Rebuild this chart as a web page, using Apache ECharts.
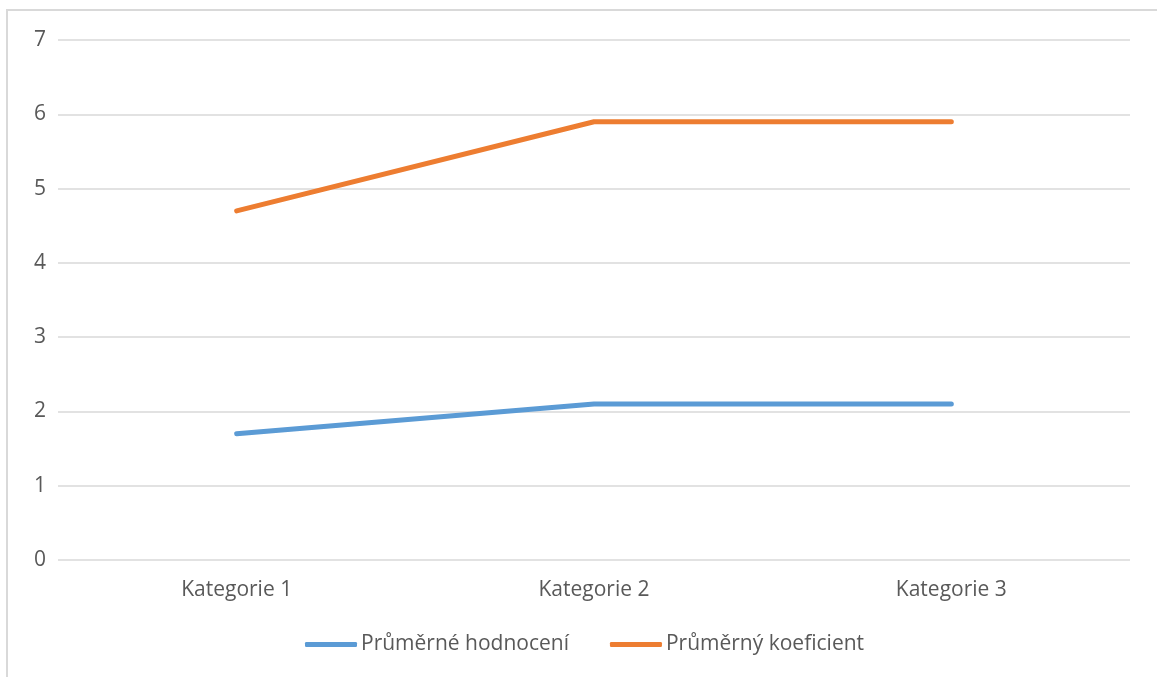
<!DOCTYPE html>
<html>
<head>
<meta charset="utf-8">
<script src="https://cdn.jsdelivr.net/npm/echarts@6/dist/echarts.min.js"></script>
<style>
  html, body { margin: 0; padding: 0; background: #fff; }
  #chart { width: 1157px; height: 677px; }
</style>
</head>
<body>
<div id="chart"></div>
<script>
// Categories and series values
const categories = ['Kategorie 1', 'Kategorie 2', 'Kategorie 3'];
const prumerneHodnoceni = [1.7, 2.1, 2.1];
const prumernyKoeficient = [4.7, 5.9, 5.9];
const seriesNames = ['Průměrné hodnocení', 'Průměrný koeficient'];

const textColor = '#595959';
const gridColor = '#d9d9d9';
const font = '"Open Sans", "Noto Sans", sans-serif';

const chart = echarts.init(document.getElementById('chart'));
chart.setOption({
  animation: false,
  backgroundColor: '#fff',
  textStyle: { fontFamily: font },
  graphic: [{
    type: 'rect',
    shape: { x: 7, y: 10, width: 1300, height: 900 },
    style: { fill: 'none', stroke: gridColor, lineWidth: 2 },
    silent: true
  }],
  grid: { left: 58, right: 27, top: 40, bottom: 117 },
  legend: {
    bottom: 17,
    left: 300,
    itemWidth: 52,
    itemHeight: 5,
    itemGap: 41,
    icon: 'roundRect',
    textStyle: { color: textColor, fontSize: 21, fontFamily: font, padding: [0, 0, 0, -1] },
    data: seriesNames
  },
  xAxis: {
    type: 'category',
    data: categories,
    boundaryGap: true,
    axisLine: { show: false },
    axisTick: { show: false },
    axisLabel: { color: textColor, fontSize: 21, margin: 20, fontFamily: font }
  },
  yAxis: {
    type: 'value',
    min: 0,
    max: 7,
    interval: 1,
    axisLine: { show: false },
    axisTick: { show: false },
    axisLabel: { color: textColor, fontSize: 21, margin: 12, fontFamily: font },
    splitLine: { lineStyle: { color: gridColor, width: 1.5 } }
  },
  series: [
    {
      name: seriesNames[0],
      type: 'line',
      data: prumerneHodnoceni,
      symbol: 'none',
      color: '#5B9BD5',
      lineStyle: { width: 5, cap: 'round', join: 'round' }
    },
    {
      name: seriesNames[1],
      type: 'line',
      data: prumernyKoeficient,
      symbol: 'none',
      color: '#ED7D31',
      lineStyle: { width: 5, cap: 'round', join: 'round' }
    }
  ]
});
</script>
</body>
</html>
